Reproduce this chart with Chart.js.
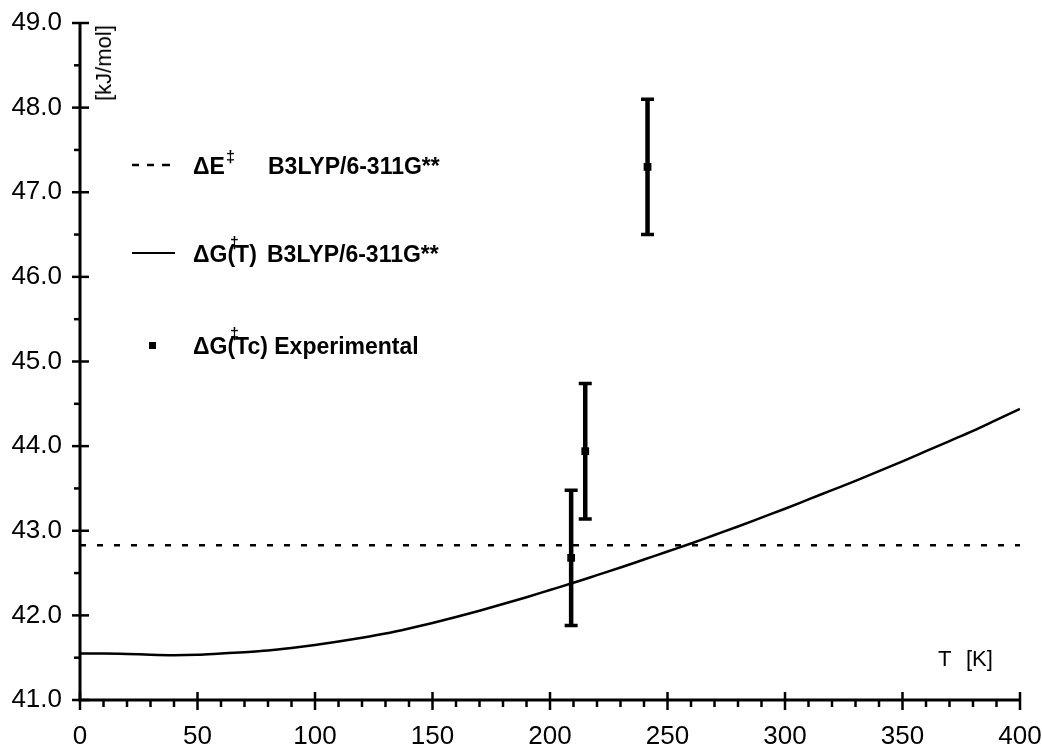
<!DOCTYPE html>
<html>
<head>
<meta charset="utf-8">
<script src="https://cdn.jsdelivr.net/npm/chart.js@4.4.1/dist/chart.umd.min.js"></script>
<style>
  html, body { margin: 0; padding: 0; background: #fff; }
  #wrap { position: relative; width: 1042px; height: 747px; font-family: "Liberation Sans", Arial, sans-serif; color: #000; overflow: hidden; }
  #c { position: absolute; left: 0; top: 0; }
  .t { position: absolute; white-space: nowrap; line-height: 1; transform: translateY(-50%); }
  .b { font-weight: bold; }
</style>
</head>
<body>
<div id="wrap">
  <canvas id="c" width="1042" height="747"></canvas>
  <div class="t" style="left:104px; top:63px; font-size:22px; transform: translate(-50%,-50%) rotate(-90deg);">[kJ/mol]</div>

  <div class="t b" style="left:193px; top:166px; font-size:23px;">ΔE</div>
  <div class="t" style="left:226px; top:157px; font-size:16px; font-weight:bold;">‡</div>
  <div class="t b" style="left:268px; top:166px; font-size:23px;">B3LYP/6-311G**</div>

  <div class="t b" style="left:193px; top:254px; font-size:23px;">ΔG(T)</div>
  <div class="t" style="left:230px; top:243px; font-size:16px; font-weight:bold;">‡</div>
  <div class="t b" style="left:267px; top:254px; font-size:23px;">B3LYP/6-311G**</div>

  <div class="t b" style="left:193px; top:346px; font-size:23px;">ΔG(Tc) Experimental</div>
  <div class="t" style="left:230px; top:334px; font-size:16px; font-weight:bold;">‡</div>

  <div class="t" style="left:938px; top:659px; font-size:22px;">T</div>
  <div class="t" style="left:966px; top:659px; font-size:22px;">[K]</div>
</div>
<script>
// ---- data ----
const curveT = [0,10,20,30,40,50,60,70,80,90,100,110,120,130,140,150,160,170,180,190,200,210,220,230,240,250,260,270,280,290,300,310,320,330,340,350,360,370,380,390,400];
const curveG = [41.55,41.55,41.545,41.535,41.53,41.535,41.55,41.565,41.585,41.615,41.65,41.69,41.735,41.785,41.845,41.91,41.98,42.055,42.135,42.215,42.30,42.385,42.475,42.565,42.66,42.755,42.85,42.95,43.05,43.155,43.26,43.37,43.48,43.59,43.705,43.82,43.94,44.06,44.18,44.31,44.44];
const dashT = [0, 400];
const dashE = [42.83, 42.83];
const expT = [209, 215, 241.5];
const expG = [42.68, 43.94, 47.30];
const expLow = [41.88, 43.14, 46.50];
const expHigh = [43.48, 44.74, 48.10];
const yMajorTicks = [41,42,43,44,45,46,47,48,49];
const xMajorTicks = [0,50,100,150,200,250,300,350,400];

const FONT = '"Liberation Sans", Arial, sans-serif';

const pts = (xs, ys) => xs.map((x, i) => ({x, y: ys[i]}));

const axesPlugin = {
  id: 'axesPlugin',
  beforeDatasetsDraw(chart) {
    const {ctx, scales: {x, y}} = chart;
    ctx.save();
    ctx.strokeStyle = '#000';
    expT.forEach((t, i) => {
      const px = x.getPixelForValue(t);
      const pl = y.getPixelForValue(expLow[i]);
      const ph = y.getPixelForValue(expHigh[i]);
      ctx.lineWidth = 4.5;
      ctx.beginPath(); ctx.moveTo(px, ph); ctx.lineTo(px, pl); ctx.stroke();
      ctx.lineWidth = 3.5;
      ctx.beginPath(); ctx.moveTo(px - 6.5, ph); ctx.lineTo(px + 6.5, ph); ctx.moveTo(px - 6.5, pl); ctx.lineTo(px + 6.5, pl); ctx.stroke();
    });
    ctx.restore();
  },
  afterDraw(chart) {
    const {ctx, chartArea: a, scales: {x, y}} = chart;
    ctx.save();
    ctx.strokeStyle = '#000';
    ctx.lineCap = 'butt';
    const ln = (x1, y1, x2, y2) => { ctx.beginPath(); ctx.moveTo(x1, y1); ctx.lineTo(x2, y2); ctx.stroke(); };
    ctx.lineWidth = 3;
    ln(a.left, a.top - 1, a.left, a.bottom + 1.5);
    ln(a.left - 1.5, a.bottom, a.right + 1, a.bottom);
    ctx.lineWidth = 2.5;
    yMajorTicks.forEach(v => { const p = y.getPixelForValue(v); ln(a.left - 8, p, a.left + 9, p); });
    for (let i = 0; i < yMajorTicks.length - 1; i++) {
      const p = y.getPixelForValue(yMajorTicks[i] + 0.5); ln(a.left - 6, p, a.left, p);
    }
    xMajorTicks.forEach(v => { const p = x.getPixelForValue(v); ln(p, a.bottom - 8, p, a.bottom + 10); });
    for (let v = 10; v < 400; v += 10) {
      if (v % 50 === 0) continue;
      const p = x.getPixelForValue(v); ln(p, a.bottom, p, a.bottom + 7);
    }
    // legend symbols
    ctx.lineWidth = 2.5;
    [[132,139],[147,154],[162,170]].forEach(s => ln(s[0], 165, s[1], 165));
    ctx.lineWidth = 2;
    ln(132, 253, 175, 253);
    ctx.fillStyle = '#000';
    ctx.fillRect(149, 342, 7, 7);
    ctx.restore();
  }
};

new Chart(document.getElementById('c'), {
  type: 'scatter',
  data: {
    datasets: [
      { label: 'dE', data: pts(dashT, dashE), showLine: true, borderColor: '#000', borderWidth: 2.5, borderDash: [6, 11], pointRadius: 0, fill: false },
      { label: 'dG', data: pts(curveT, curveG), showLine: true, borderColor: '#000', borderWidth: 2.5, pointRadius: 0, cubicInterpolationMode: 'monotone', fill: false },
      { label: 'exp', data: pts(expT, expG), showLine: false, pointStyle: 'rect', pointRadius: 5.5, backgroundColor: '#000', borderColor: '#000', borderWidth: 0 }
    ]
  },
  options: {
    responsive: false,
    animation: false,
    events: [],
    layout: { padding: { left: 0, right: 22, top: 23, bottom: 0 } },
    plugins: { legend: { display: false }, tooltip: { enabled: false } },
    scales: {
      x: {
        type: 'linear', min: 0, max: 400,
        afterBuildTicks: s => { s.ticks = xMajorTicks.map(v => ({value: v})); },
        afterFit: s => { s.height = 47; s.paddingLeft = 0; s.paddingRight = 0; },
        grid: { display: false }, border: { display: false },
        ticks: { color: '#000', padding: 13, maxRotation: 0, font: { family: FONT, size: 26 }, callback: v => String(v) }
      },
      y: {
        type: 'linear', min: 41, max: 49,
        afterBuildTicks: s => { s.ticks = yMajorTicks.map(v => ({value: v})); },
        afterFit: s => { s.width = 80; s.paddingTop = 0; s.paddingBottom = 0; },
        grid: { display: false }, border: { display: false },
        ticks: { color: '#000', padding: 10, font: { family: FONT, size: 26 }, callback: v => Number(v).toFixed(1) }
      }
    }
  },
  plugins: [axesPlugin]
});
</script>
</body>
</html>
